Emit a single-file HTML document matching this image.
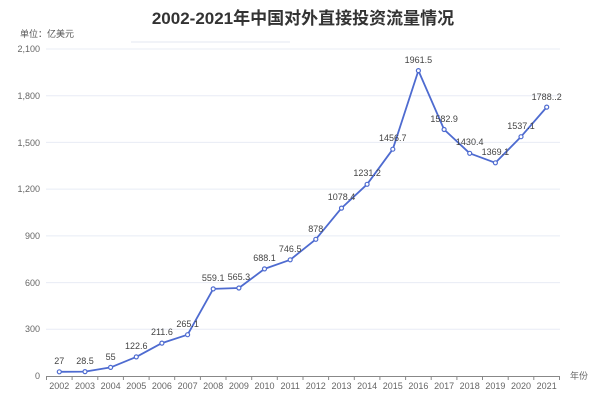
<!DOCTYPE html>
<html><head><meta charset="utf-8"><style>
html,body{margin:0;padding:0;background:#fff;}
svg{display:block;font-family:"Liberation Sans","Noto Sans CJK SC",sans-serif;}
</style></head><body>
<svg width="606" height="400" viewBox="0 0 606 400">
<text x="303" y="24" text-anchor="middle" font-size="17" font-weight="bold" fill="#333">2002-2021年中国对外直接投资流量情况</text>
<line x1="131" y1="42" x2="290" y2="42" stroke="#e3e7f0" stroke-width="1"/>
<text x="20" y="37" font-size="9" fill="#555">单位：亿美元</text>
<g stroke="#e8ecf5" stroke-width="1">
<line x1="46" y1="49" x2="560" y2="49"/>
<line x1="46" y1="95.7" x2="560" y2="95.7"/>
<line x1="46" y1="142.4" x2="560" y2="142.4"/>
<line x1="46" y1="189.1" x2="560" y2="189.1"/>
<line x1="46" y1="235.9" x2="560" y2="235.9"/>
<line x1="46" y1="282.6" x2="560" y2="282.6"/>
<line x1="46" y1="329.3" x2="560" y2="329.3"/>
</g>
<g font-size="9" fill="#666" text-anchor="end">
<text x="40" y="52">2,100</text><text x="40" y="99">1,800</text><text x="40" y="146">1,500</text>
<text x="40" y="192">1,200</text><text x="40" y="239">900</text><text x="40" y="286">600</text>
<text x="40" y="332">300</text><text x="40" y="379">0</text>
</g>
<line x1="46" y1="376.5" x2="560" y2="376.5" stroke="#888" stroke-width="1"/>
<g stroke="#888" stroke-width="1">
<line x1="46.5" y1="376" x2="46.5" y2="380"/><line x1="72.1" y1="376" x2="72.1" y2="380"/><line x1="97.8" y1="376" x2="97.8" y2="380"/><line x1="123.4" y1="376" x2="123.4" y2="380"/><line x1="149.1" y1="376" x2="149.1" y2="380"/><line x1="174.7" y1="376" x2="174.7" y2="380"/><line x1="200.4" y1="376" x2="200.4" y2="380"/><line x1="226" y1="376" x2="226" y2="380"/><line x1="251.7" y1="376" x2="251.7" y2="380"/><line x1="277.3" y1="376" x2="277.3" y2="380"/><line x1="303" y1="376" x2="303" y2="380"/><line x1="328.6" y1="376" x2="328.6" y2="380"/><line x1="354.3" y1="376" x2="354.3" y2="380"/><line x1="379.9" y1="376" x2="379.9" y2="380"/><line x1="405.6" y1="376" x2="405.6" y2="380"/><line x1="431.2" y1="376" x2="431.2" y2="380"/><line x1="456.9" y1="376" x2="456.9" y2="380"/><line x1="482.5" y1="376" x2="482.5" y2="380"/><line x1="508.2" y1="376" x2="508.2" y2="380"/><line x1="533.8" y1="376" x2="533.8" y2="380"/><line x1="559.5" y1="376" x2="559.5" y2="380"/>
</g>
<g font-size="9" fill="#666" text-anchor="middle">
<text x="59.3" y="389">2002</text><text x="85" y="389">2003</text><text x="110.6" y="389">2004</text><text x="136.3" y="389">2005</text><text x="161.9" y="389">2006</text><text x="187.6" y="389">2007</text><text x="213.2" y="389">2008</text><text x="238.9" y="389">2009</text><text x="264.5" y="389">2010</text><text x="290.2" y="389">2011</text><text x="315.8" y="389">2012</text><text x="341.5" y="389">2013</text><text x="367.1" y="389">2014</text><text x="392.8" y="389">2015</text><text x="418.4" y="389">2016</text><text x="444.1" y="389">2017</text><text x="469.7" y="389">2018</text><text x="495.4" y="389">2019</text><text x="521" y="389">2020</text><text x="546.7" y="389">2021</text>
</g>
<text x="570" y="379" font-size="9" fill="#666">年份</text>
<polyline fill="none" stroke="#4e6bd0" stroke-width="1.8" stroke-linejoin="round" points="59.3,371.8 85,371.6 110.6,367.4 136.3,356.9 161.9,343.1 187.6,334.7 213.2,288.9 238.9,288 264.5,268.9 290.2,259.8 315.8,239.3 341.5,208.1 367.1,184.3 392.8,149.2 418.4,70.6 444.1,129.5 469.7,153.3 495.4,162.8 521,136.7 546.7,107.1"/>
<g fill="#fff" stroke="#4e6bd0" stroke-width="1.2">
<circle cx="59.3" cy="371.8" r="2"/><circle cx="85" cy="371.6" r="2"/><circle cx="110.6" cy="367.4" r="2"/><circle cx="136.3" cy="356.9" r="2"/><circle cx="161.9" cy="343.1" r="2"/><circle cx="187.6" cy="334.7" r="2"/><circle cx="213.2" cy="288.9" r="2"/><circle cx="238.9" cy="288" r="2"/><circle cx="264.5" cy="268.9" r="2"/><circle cx="290.2" cy="259.8" r="2"/><circle cx="315.8" cy="239.3" r="2"/><circle cx="341.5" cy="208.1" r="2"/><circle cx="367.1" cy="184.3" r="2"/><circle cx="392.8" cy="149.2" r="2"/><circle cx="418.4" cy="70.6" r="2"/><circle cx="444.1" cy="129.5" r="2"/><circle cx="469.7" cy="153.3" r="2"/><circle cx="495.4" cy="162.8" r="2"/><circle cx="521" cy="136.7" r="2"/><circle cx="546.7" cy="107.1" r="2"/>
</g>
<g font-size="9" fill="#444" text-anchor="middle">
<text x="59.3" y="364">27</text><text x="85" y="364">28.5</text><text x="110.6" y="360">55</text><text x="136.3" y="349">122.6</text><text x="161.9" y="335">211.6</text><text x="187.6" y="327">265.1</text><text x="213.2" y="281">559.1</text><text x="238.9" y="280">565.3</text><text x="264.5" y="261">688.1</text><text x="290.2" y="252">746.5</text><text x="315.8" y="232">878</text><text x="341.5" y="200">1078.4</text><text x="367.1" y="176">1231.2</text><text x="392.8" y="141">1456.7</text><text x="418.4" y="63">1961.5</text><text x="444.1" y="122">1582.9</text><text x="469.7" y="145">1430.4</text><text x="495.4" y="155">1369.1</text><text x="521" y="129">1537.1</text><text x="546.7" y="100">1788..2</text>
</g>
</svg>
</body></html>
